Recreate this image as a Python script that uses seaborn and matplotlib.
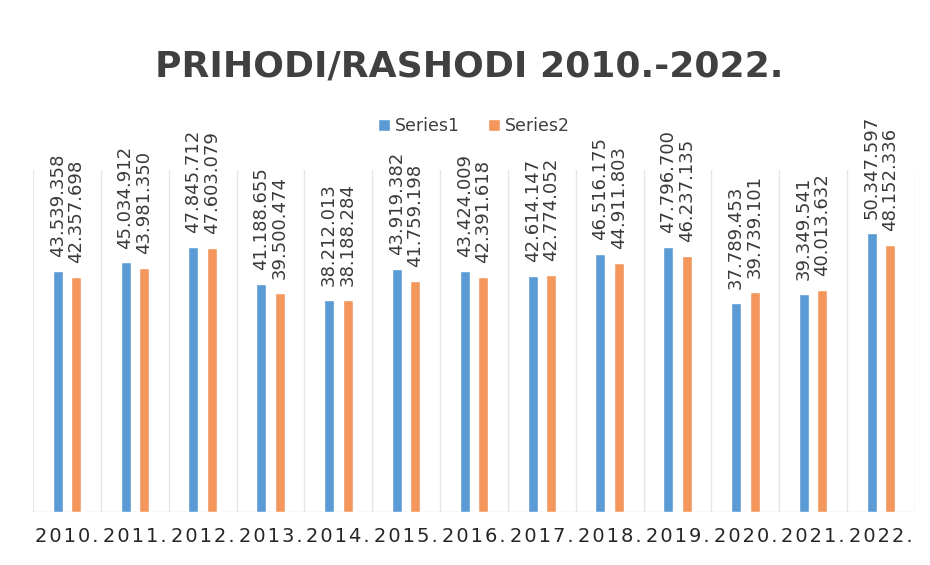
import matplotlib
matplotlib.use("Agg")
import matplotlib.pyplot as plt
import seaborn as sns
import pandas as pd
import numpy as np

years = ["2010.", "2011.", "2012.", "2013.", "2014.", "2015.", "2016.",
         "2017.", "2018.", "2019.", "2020.", "2021.", "2022."]
series1 = [43539358, 45034912, 47845712, 41188655, 38212013, 43919382, 43424009,
           42614147, 46516175, 47796700, 37789453, 39349541, 50347597]
series2 = [42357698, 43981350, 47603079, 39500474, 38188284, 41759198, 42391618,
           42774052, 44911803, 46237135, 39739101, 40013632, 48152336]
series_names = ["Series1", "Series2"]
colors = ["#5B9BD5", "#F4975C"]

df = pd.DataFrame({
    "year": years * 2,
    "value": series1 + series2,
    "series": [series_names[0]] * len(years) + [series_names[1]] * len(years),
})

sns.set_theme(style="white")
plt.rcParams["font.family"] = ["DejaVu Sans"]

fig = plt.figure(figsize=(9.3, 5.65), dpi=100)
W, H = 930, 565
ax = fig.add_axes([33 / W, 53 / H, (915 - 33) / W, (512 - 170) / H])

sns.barplot(data=df, x="year", y="value", hue="series", order=years,
            hue_order=series_names, palette=colors, width=0.546, gap=0.46,
            saturation=1, ax=ax, legend=True)

ax.set_ylim(0, 61.7e6)
ax.set_xlim(-0.5, len(years) - 0.5)

def fmt(v):
    return f"{v:,}".replace(",", ".")

for cont in ax.containers:
    for bar in cont:
        h = bar.get_height()
        xc = bar.get_x() + bar.get_width() / 2
        ax.text(xc, h + 2.5e6, fmt(int(round(h))), rotation=90, ha="center",
                va="bottom", fontsize=13, color="#3A3A3A", clip_on=False)

# separators
for i in range(len(years) + 1):
    ax.axvline(i - 0.5, color="#E6E6E6", lw=1, zorder=0)
for s in ax.spines.values():
    s.set_visible(False)
ax.axhline(0, color="#E0E0E0", lw=1, zorder=0)

ax.set_yticks([])
ax.set_xlabel("")
ax.set_ylabel("")
ax.set_xticks(range(len(years)))
ax.set_xticklabels(["\u200a".join(list(y)) for y in years])
ax.tick_params(axis="x", length=0, labelsize=14, labelcolor="#262626", pad=11)

leg = ax.legend(loc="center", ncol=2, frameon=False, fontsize=12.5,
                handlelength=0.7, handleheight=0.7, columnspacing=1.6,
                handletextpad=0.3, labelcolor="#404040")
leg.set_bbox_to_anchor((0.5, 1.0 + (170 - 126) / 342), transform=ax.transAxes)

fig.text(0.505, 1 - 66 / H, "PRIHODI/RASHODI 2010.-2022.", ha="center",
         va="center", fontsize=26, fontweight="bold", color="#404040")

fig.savefig("out.png", dpi=100, facecolor="white")
